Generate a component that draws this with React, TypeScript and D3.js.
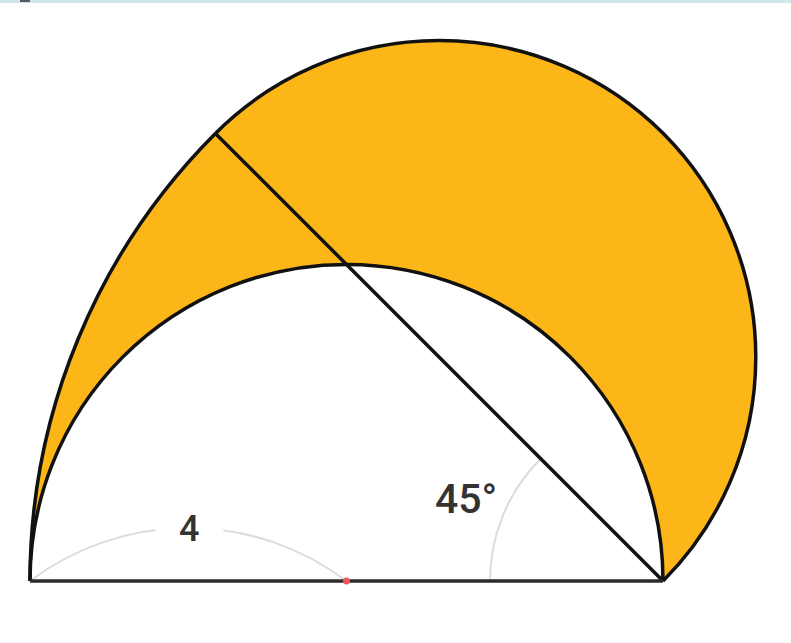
import React, { useEffect, useRef } from 'react';
import * as d3 from 'd3';

// geometry of the figure (units)
const radiusValue = [4];
const angleDeg = [45];
const labels = ['4', '45°'];

const W = 791, H = 643;
const ORANGE = '#fdb618';

export default function App() {
  const ref = useRef<SVGSVGElement>(null);

  useEffect(() => {
    const svg = d3.select(ref.current);
    svg.selectAll('*').remove();

    const r = radiusValue[0];
    const theta = (angleDeg[0] * Math.PI) / 180;

    // same pixels per unit on both axes
    const x = d3.scaleLinear().domain([0, 2 * r]).range([30, 663]);
    const k = (663 - 30) / (2 * r);
    const y = d3.scaleLinear().domain([0, 1]).range([581, 581 - k]);

    const A = [x(0), y(0)];
    const B = [x(2 * r), y(0)];
    const O = [x(r), y(0)];
    const R = 2 * r * k; // pixel radius of big arc
    const rp = r * k;
    const Ap = [B[0] - R * Math.cos(theta), B[1] - R * Math.sin(theta)];
    const M = [(Ap[0] + B[0]) / 2, (Ap[1] + B[1]) / 2];

    // top strip from the video frame
    svg.append('rect').attr('x', 0).attr('y', 0).attr('width', W).attr('height', 3).attr('fill', '#cfe8ee');
    svg.append('rect').attr('x', 20).attr('y', 0).attr('width', 10).attr('height', 2).attr('fill', '#556');

    // shaded region
    const p = d3.path();
    p.moveTo(A[0], A[1]);
    p.arc(B[0], B[1], R, Math.PI, Math.PI + theta, false);
    p.arc(M[0], M[1], rp, Math.PI + theta, 2 * Math.PI + theta, false);
    p.arc(O[0], O[1], rp, 0, -Math.PI, true);
    p.closePath();
    svg.append('path').attr('d', p.toString()).attr('fill', ORANGE);

    // grey annotations
    const g = svg.append('g').attr('fill', 'none').attr('stroke', '#dcdcdc').attr('stroke-width', 2);
    const p45 = d3.path();
    p45.arc(B[0], B[1], 173, Math.PI, Math.PI + theta, false);
    g.append('path').attr('d', p45.toString());

    // radius label arc from A to O
    const chord = O[0] - A[0];
    const sag = 53;
    const rr = (chord * chord / 4 + sag * sag) / (2 * sag);
    const cx = (A[0] + O[0]) / 2, cy = A[1] - sag + rr;
    const a0 = Math.atan2(A[1] - cy, A[0] - cx);
    const a1 = Math.atan2(O[1] - cy, O[0] - cx);
    const pr = d3.path();
    pr.moveTo(A[0] + 4, A[1] - 3);
    pr.arc(cx, cy, rr, a0, a1, false);
    g.append('path').attr('d', pr.toString());
    svg.append('rect').attr('x', cx - 33).attr('y', cy - rr - 14).attr('width', 68).attr('height', 28).attr('fill', '#fff');

    // outlines
    const s = svg.append('g').attr('fill', 'none').attr('stroke', '#111').attr('stroke-width', 3.5).attr('stroke-linejoin', 'round');
    const big = d3.path();
    big.moveTo(A[0], A[1]);
    big.arc(B[0], B[1], R, Math.PI, Math.PI + theta, false);
    s.append('path').attr('d', big.toString());
    const semi2 = d3.path();
    semi2.moveTo(Ap[0], Ap[1]);
    semi2.arc(M[0], M[1], rp, Math.PI + theta, 2 * Math.PI + theta, false);
    s.append('path').attr('d', semi2.toString());
    const semi1 = d3.path();
    semi1.moveTo(B[0], B[1]);
    semi1.arc(O[0], O[1], rp, 0, -Math.PI, true);
    s.append('path').attr('d', semi1.toString());
    s.append('line').attr('x1', Ap[0]).attr('y1', Ap[1]).attr('x2', B[0]).attr('y2', B[1]);
    s.append('line').attr('x1', A[0]).attr('y1', A[1]).attr('x2', B[0]).attr('y2', B[1]).attr('stroke', '#2a2a2a');

    // center dot
    svg.append('circle').attr('cx', O[0]).attr('cy', O[1]).attr('r', 3.5).attr('fill', '#f05a5a');

    const t = svg.append('g').attr('font-family', 'Roboto, sans-serif').attr('font-weight', 500).attr('fill', '#333');
    t.append('text').attr('x', cx + 1).attr('y', cy - rr + 13).attr('text-anchor', 'middle').attr('font-size', 36).text(labels[0]);
    t.append('text').attr('x', 435).attr('y', 513).attr('font-size', 41).text(labels[1]);
  }, []);

  return (
    <svg ref={ref} width={W} height={H} style={{ position: 'absolute', left: 0, top: 0, background: '#fff' }} />
  );
}
